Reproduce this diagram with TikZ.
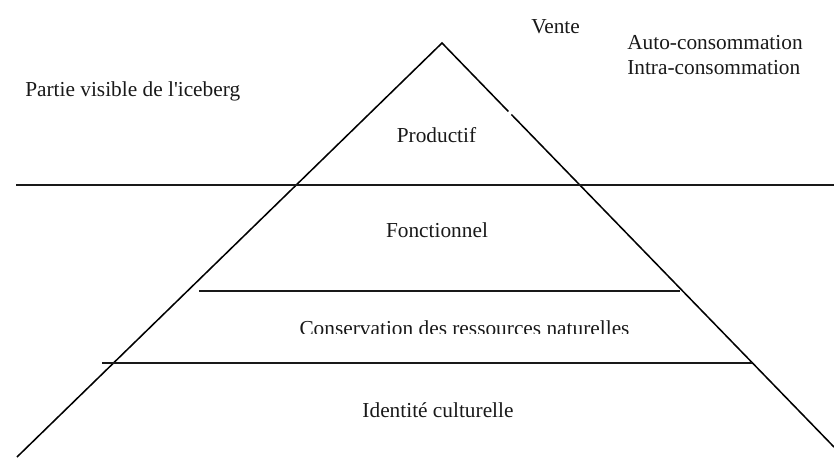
\documentclass[tikz,border=0pt]{standalone}
\usepackage{fontspec}
\newfontfamily\refserif{Liberation Serif}
\tikzset{
  every picture/.style={x=0.75pt,y=-0.75pt},
  ln/.style={draw=black,line width=1.15pt,line cap=butt},
  hln/.style={draw=black!90,line width=1.5pt,line cap=butt},
  lbl/.style={inner sep=0pt,font=\refserif\fontsize{16pt}{18pt}\selectfont,text=black!90}
}
\begin{document}
\begin{tikzpicture}
\useasboundingbox (0,0) rectangle (834,457);
\coordinate (apex) at (442,43);
\coordinate (bl) at (17,457);
\coordinate (gapa) at (508.4,111.5);
\coordinate (gapb) at (511.4,114.5);
\coordinate (br) at (834,447);
\draw[ln,line join=miter] (bl) -- (apex) -- (gapa);
\draw[ln] (gapb) -- (br);
\coordinate (wl) at (16,185); \coordinate (wr) at (834,185);
\draw[hln] (wl) -- (wr);
\coordinate (a1) at (199,291); \coordinate (a2) at (680,291);
\draw[hln] (a1) -- (a2);
\coordinate (b1) at (102,363); \coordinate (b2) at (752,363);
\draw[hln] (b1) -- (b2);
\node[lbl,anchor=base west] (vis) at (25,96.5) {Partie visible de l'iceberg};
\node[lbl,anchor=base west] (vente) at (531,33.5) {Vente};
\node[lbl,anchor=base west] (auto) at (627,49.5) {Auto-consommation};
\node[lbl,anchor=base west] (intra) at (627,74) {Intra-consommation};
\node[lbl,anchor=base] (prod) at (436.5,142) {Productif};
\node[lbl,anchor=base] (fonc) at (437,237) {Fonctionnel};
\begin{scope}
\clip (250,300) rectangle (650,333);
\node[lbl,anchor=base] (cons) at (464.5,335) {Conservation des ressources naturelles};
\end{scope}
\node[lbl,anchor=base] (iden) at (438,417) {Identité culturelle};
\end{tikzpicture}
\end{document}
